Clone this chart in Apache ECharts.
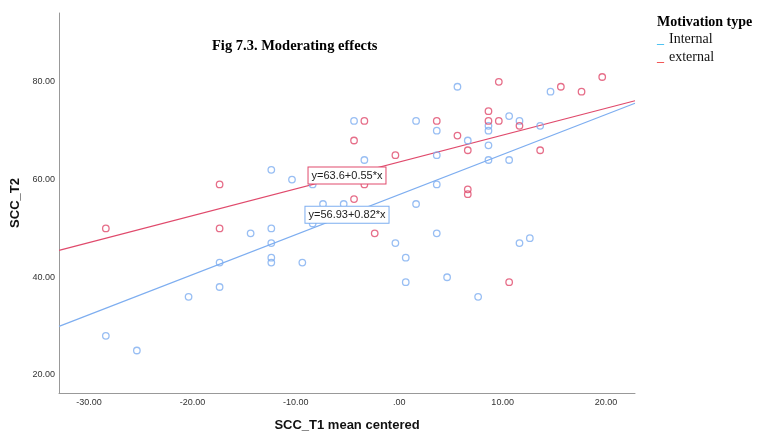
<!DOCTYPE html>
<html>
<head>
<meta charset="utf-8">
<title>Fig 7.3. Moderating effects</title>
<script src="https://cdn.jsdelivr.net/npm/echarts@6/dist/echarts.min.js"></script>
<style>
  html, body { margin: 0; padding: 0; background: #fff; }
  #chart { width: 760px; height: 434px; }
</style>
</head>
<body>
<div id="chart"></div>
<script>
// Observations: SCC_T1 (mean centered) against SCC_T2, by motivation type
const internalX = [-28.37, -25.37, -20.37, -17.37, -17.37, -14.37, -12.37, -12.37, -12.37, -12.37, -12.37,
  -10.37, -9.37, -8.37, -8.37, -7.37, -5.37, -4.37, -3.37, -0.37, 0.63, 0.63, 1.63, 1.63, 3.63, 3.63,
  3.63, 3.63, 4.63, 5.63, 6.63, 7.63, 8.63, 8.63, 8.63, 8.63, 10.63, 10.63, 11.63, 11.63, 12.63, 13.63, 14.63];
const internalY = [28, 25, 36, 43, 38, 49, 62, 50, 47, 44, 43,
  60, 43, 59, 51, 55, 55, 72, 64, 47, 44, 39, 72, 55, 70, 65,
  59, 49, 40, 79, 68, 36, 71, 70, 67, 64, 73, 64, 72, 47, 48, 71, 78];

const externalX = [-28.37, -17.37, -17.37, -4.37, -4.37, -3.37, -3.37, -2.37, -0.37, 3.63, 5.63, 6.63,
  6.63, 6.63, 8.63, 8.63, 9.63, 9.63, 10.63, 11.63, 13.63, 15.63, 17.63, 19.63];
const externalY = [50, 59, 50, 68, 56, 72, 59, 49, 65, 72, 69, 66,
  58, 57, 74, 72, 80, 72, 39, 71, 66, 79, 78, 81];

// Fit lines per group: y = intercept + slope * x
const groupNames = ['Internal', 'external'];
const fitIntercept = [56.93, 63.6];
const fitSlope = [0.82, 0.55];

// Axis ticks
const xTicks = [-30, -20, -10, 0, 10, 20];
const yTicks = [20, 40, 60, 80];

const X_MIN = -32.9, X_MAX = 22.8;
const Y_MIN = 16.3, Y_MAX = 94.1;
const LABEL_AT_X = -5.05;

const BLUE = '#7eaef0';
const RED = '#e04a6c';
const colors = [BLUE, RED];

function zip(xs, ys) { return xs.map((x, i) => [x, ys[i]]); }
function fmtTick(v) {
  let s = Number(v).toFixed(2);
  return s.replace(/^0\./, '.').replace(/^-0\./, '-.');
}
function fitText(g) { return 'y=' + fitIntercept[g] + '+' + fitSlope[g] + '*x'; }
function fitAt(g, x) { return fitIntercept[g] + fitSlope[g] * x; }

const chart = echarts.init(document.getElementById('chart'), null, { renderer: 'canvas' });

const axisCommon = {
  axisLine: { show: true, onZero: false, lineStyle: { color: '#999', width: 1 } },
  axisTick: { show: false },
  splitLine: { show: false },
  axisLabel: { color: '#333', fontSize: 9, fontFamily: 'Liberation Sans, Arial, sans-serif', formatter: fmtTick },
  nameTextStyle: { color: '#111', fontSize: 13, fontWeight: 'bold', fontFamily: 'Liberation Sans, Arial, sans-serif' }
};

const series = [];
[zip(internalX, internalY), zip(externalX, externalY)].forEach((pts, g) => {
  series.push({
    name: groupNames[g],
    type: 'scatter',
    data: pts,
    symbol: 'circle',
    symbolSize: 6.5,
    itemStyle: { color: 'rgba(255,255,255,0)', borderColor: colors[g], borderWidth: 1.3 },
    z: 3
  });
});
[0, 1].forEach(g => {
  series.push({
    name: groupNames[g] + ' fit',
    type: 'line',
    data: [[X_MIN, fitAt(g, X_MIN)], [X_MAX, fitAt(g, X_MAX)]],
    symbol: 'none',
    lineStyle: { color: colors[g], width: 1.2 },
    silent: true,
    z: 2,
    markPoint: {
      symbol: 'rect',
      symbolSize: 0,
      silent: true,
      z: 10,
      data: [{ coord: [LABEL_AT_X, fitAt(g, LABEL_AT_X)] }],
      label: {
        show: true,
        position: 'inside',
        formatter: fitText(g),
        color: '#222',
        fontSize: 11,
        fontFamily: 'Liberation Sans, Arial, sans-serif',
        backgroundColor: '#fff',
        borderColor: colors[g],
        borderWidth: 1,
        padding: [3, 3, 2, 3]
      }
    }
  });
});

chart.setOption({
  animation: false,
  backgroundColor: '#fff',
  title: {
    text: 'Fig 7.3. Moderating effects',
    left: 212,
    top: 39,
    padding: 0,
    textStyle: { fontFamily: 'Liberation Serif, Times New Roman, serif', fontWeight: 'bold', fontSize: 14.5, color: '#000' }
  },
  grid: { left: 59, top: 13, width: 576, height: 380, outerBoundsMode: 'none' },
  xAxis: Object.assign({}, axisCommon, {
    type: 'value',
    min: X_MIN, max: X_MAX,
    name: 'SCC_T1 mean centered',
    nameLocation: 'middle',
    nameGap: 26,
    axisLabel: Object.assign({}, axisCommon.axisLabel, { margin: 5, customValues: xTicks })
  }),
  yAxis: Object.assign({}, axisCommon, {
    type: 'value',
    min: Y_MIN, max: Y_MAX,
    name: 'SCC_T2',
    nameLocation: 'middle',
    nameGap: 36,
    axisLabel: Object.assign({}, axisCommon.axisLabel, { margin: 4, customValues: yTicks })
  }),
  series: series,
  graphic: [
    {
      type: 'group', left: 657, top: 15,
      children: [
        { type: 'text', x: 0, y: 0, style: { text: 'Motivation type', font: 'bold 14px "Liberation Serif", serif', fill: '#000' } },
        { type: 'text', x: 0, y: 17, style: { text: '_', font: '14px "Liberation Serif", serif', fill: '#1ab2ee' } },
        { type: 'text', x: 12, y: 17, style: { text: groupNames[0], font: '14px "Liberation Serif", serif', fill: '#111' } },
        { type: 'text', x: 0, y: 35, style: { text: '_', font: '14px "Liberation Serif", serif', fill: '#ee2222' } },
        { type: 'text', x: 12, y: 35, style: { text: groupNames[1], font: '14px "Liberation Serif", serif', fill: '#111' } }
      ]
    }
  ]
});
</script>
</body>
</html>
